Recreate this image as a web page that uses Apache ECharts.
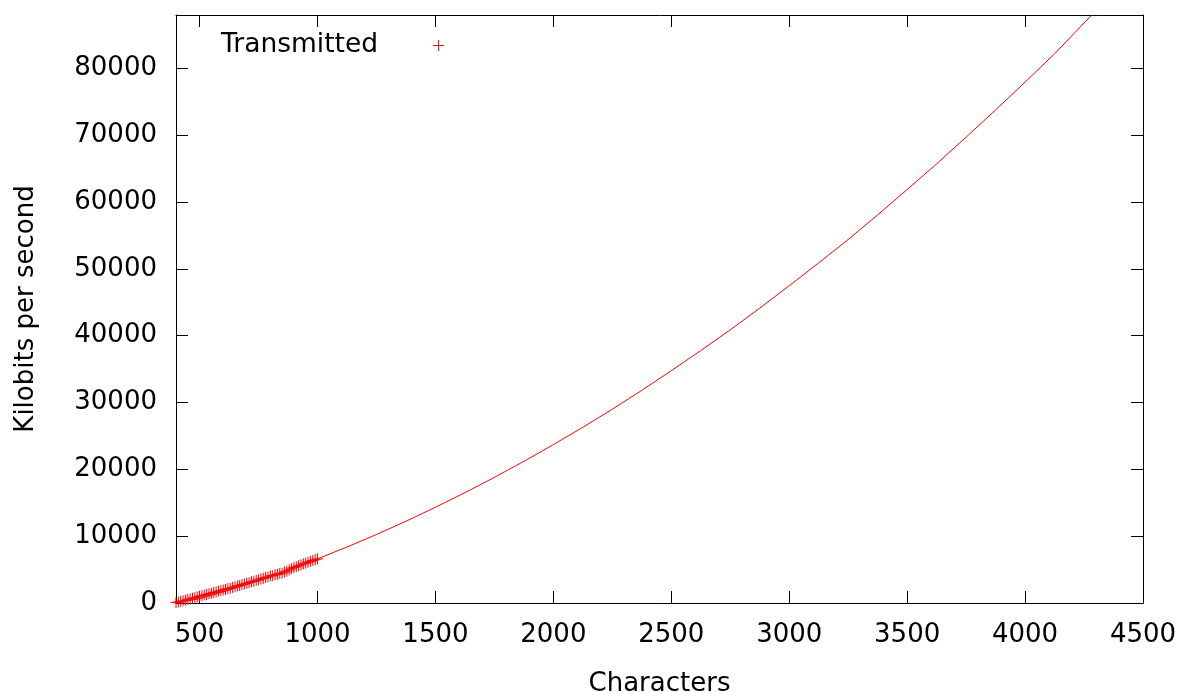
<!DOCTYPE html>
<html>
<head>
<meta charset="utf-8">
<script src="https://cdn.jsdelivr.net/npm/echarts@6/dist/echarts.min.js"></script>
<style>
  html, body { margin: 0; padding: 0; background: #ffffff; }
  #chart { width: 1184px; height: 692px; }
</style>
</head>
<body>
<div id="chart"></div>
<script>
// Measured samples: characters sent vs. transmission rate
const sampleChars = [
  400, 410, 420, 430, 440, 450, 460, 470, 480, 490,
  500, 510, 520, 530, 540, 550, 560, 570, 580, 590,
  600, 610, 620, 630, 640, 650, 660, 670, 680, 690,
  700, 710, 720, 730, 740, 750, 760, 770, 780, 790,
  800, 810, 820, 830, 840, 850, 860, 870, 880, 890,
  900, 910, 920, 930, 940, 950, 960, 970, 980, 990,
  1000
];
const sampleKbps = [
  60, 150, 250, 330, 420, 560, 610, 720, 800, 910,
  1000, 1080, 1200, 1260, 1390, 1450, 1580, 1650, 1760, 1840,
  1950, 2030, 2150, 2220, 2340, 2420, 2560, 2620, 2760, 2850,
  2960, 3040, 3180, 3250, 3390, 3460, 3610, 3690, 3830, 3900,
  4050, 4080, 4220, 4290, 4420, 4470, 4650, 4760, 4950, 5120,
  5300, 5420, 5580, 5700, 5860, 5950, 6100, 6230, 6360, 6470,
  6600
];

// Fitted trend curve
const fitChars = [
  400, 500, 600, 700, 800, 900, 1000, 1125, 1250, 1375, 1500, 1625, 1750, 1875,
  2000, 2125, 2250, 2375, 2500, 2625, 2750, 2875, 3000, 3125, 3250, 3375,
  3500, 3625, 3750, 3875, 4000, 4125, 4283
];
const fitKbps = [
  0, 650, 1650, 2780, 3980, 5250, 6600, 8380, 10250, 12230, 14330, 16510, 18800, 21200,
  23700, 26300, 29000, 31830, 34760, 37780, 40880, 44130, 47480, 50900, 54400, 58080,
  61880, 65720, 69720, 73780, 77950, 82200, 88000
];

// Axis ticks
const xTicks = [500, 1000, 1500, 2000, 2500, 3000, 3500, 4000, 4500];
const yTicks = [0, 10000, 20000, 30000, 40000, 50000, 60000, 70000, 80000];

const FONT = 'DejaVu Sans';
const FS = 26;
const RED = '#ff0000';
const PLUS = 'path://M0,5L10,5M5,0L5,10';

const chart = echarts.init(document.getElementById('chart'), null, { renderer: 'canvas' });

const axisLine = { show: true, onZero: false, lineStyle: { color: '#000', width: 1 } };
const tickStyle = { color: '#000', width: 1 };
const plain = v => String(v);

chart.setOption({
  animation: false,
  backgroundColor: '#ffffff',
  grid: { left: 176, right: 41, top: 15, bottom: 89, containLabel: false, outerBoundsMode: 'none' },
  legend: {
    left: 216, top: 27,
    align: 'right',
    itemWidth: 11, itemHeight: 11,
    data: [{ name: 'Transmitted', icon: PLUS, itemStyle: { color: 'transparent', borderColor: RED, borderWidth: 1 } }],
    formatter: '{t|{name}}',
    textStyle: {
      fontFamily: FONT, fontSize: 26.5, color: '#000',
      rich: { t: { fontFamily: FONT, fontSize: 26.5, color: '#000', padding: [0, 50, 0, 0] } }
    }
  },
  xAxis: [
    {
      type: 'value', min: 400, max: 4500, position: 'bottom',
      name: 'Characters', nameLocation: 'middle', nameGap: 68,
      nameTextStyle: { fontFamily: FONT, fontSize: FS, color: '#000' },
      axisLine: axisLine,
      axisTick: { show: true, inside: true, length: 12, lineStyle: tickStyle, customValues: xTicks },
      axisLabel: { show: true, margin: 19, fontFamily: FONT, fontSize: FS, color: '#000', customValues: xTicks, formatter: plain },
      splitLine: { show: false }
    },
    {
      type: 'value', min: 400, max: 4500, position: 'top',
      axisLine: axisLine,
      axisTick: { show: true, inside: true, length: 12, lineStyle: tickStyle, customValues: xTicks },
      axisLabel: { show: false },
      splitLine: { show: false }
    }
  ],
  yAxis: [
    {
      type: 'value', min: 0, max: 88000, position: 'left',
      name: 'Kilobits per second', nameLocation: 'middle', nameGap: 137,
      nameTextStyle: { fontFamily: FONT, fontSize: FS, color: '#000' },
      axisLine: axisLine,
      axisTick: { show: true, inside: true, length: 12, lineStyle: tickStyle, customValues: yTicks },
      axisLabel: { show: true, margin: 19, fontFamily: FONT, fontSize: FS, color: '#000', customValues: yTicks, formatter: plain },
      splitLine: { show: false }
    },
    {
      type: 'value', min: 0, max: 88000, position: 'right',
      axisLine: axisLine,
      axisTick: { show: true, inside: true, length: 12, lineStyle: tickStyle, customValues: yTicks },
      axisLabel: { show: false },
      splitLine: { show: false }
    }
  ],
  series: [
    {
      name: 'Transmitted',
      type: 'scatter',
      xAxisIndex: 0, yAxisIndex: 0,
      symbol: PLUS,
      symbolSize: 11,
      itemStyle: { color: 'transparent', borderColor: RED, borderWidth: 1, opacity: 1 },
      data: sampleChars.map((c, i) => [c, sampleKbps[i]]),
      clip: true
    },
    {
      name: 'fit',
      type: 'line',
      xAxisIndex: 0, yAxisIndex: 0,
      showSymbol: false,
      symbol: 'none',
      lineStyle: { color: RED, width: 1 },
      data: fitChars.map((c, i) => [c, fitKbps[i]]),
      clip: true
    }
  ]
});
</script>
</body>
</html>
